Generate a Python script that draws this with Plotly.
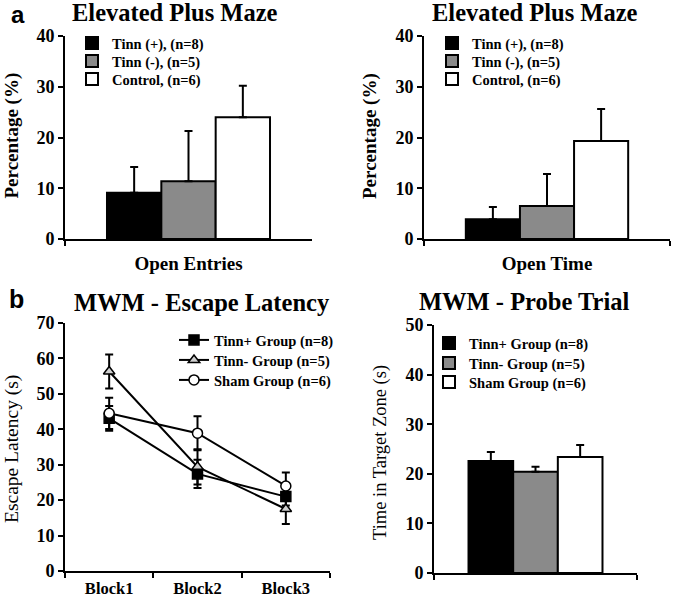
import plotly.graph_objects as go
from plotly.subplots import make_subplots

# --- data ---
epm_groups = ["Tinn (+), (n=8)", "Tinn (-), (n=5)", "Control, (n=6)"]
open_entries = [9.1, 11.4, 24.0]
open_entries_err = [5.1, 9.9, 6.2]
open_time = [3.9, 6.5, 19.3]
open_time_err = [2.4, 6.3, 6.3]

blocks = ["Block1", "Block2", "Block3"]
mwm_groups = ["Tinn+ Group (n=8)", "Tinn- Group (n=5)", "Sham Group (n=6)"]
latency_tinn_pos = [43.1, 27.4, 21.0]
latency_tinn_pos_err = [3.5, 4.0, 2.5]
latency_tinn_neg = [56.3, 29.4, 17.5]
latency_tinn_neg_err = [4.8, 5.0, 4.2]
latency_sham = [44.5, 38.9, 24.0]
latency_sham_err = [4.4, 4.8, 3.8]

probe_time = [22.6, 20.4, 23.4]
probe_err = [1.8, 1.0, 2.4]

bar_colors = ["#000000", "#8a8a8a", "#ffffff"]
SERIF = "Liberation Serif"
SANS = "Liberation Sans"
W, H = 675, 598

fig = make_subplots(rows=2, cols=2)

# one small legend per entry so rows can sit as tightly as in the original
legend_font = dict(family=SERIF, size=14.5, color="black", weight="bold")
legend_spots = []  # (text_x, row_center_y)


def new_legend(text_x, row_y):
    legend_spots.append((text_x, row_y))
    n = len(legend_spots)
    return "legend" if n == 1 else f"legend{n}"


def add_bars(names, cat, vals, errs, row, col, text_x, rows_y):
    for name, v, e, c, ry in zip(names, vals, errs, bar_colors, rows_y):
        fig.add_trace(go.Bar(
            x=[cat], y=[v], name=name, legend=new_legend(text_x, ry),
            marker=dict(color=c, line=dict(color="black", width=2)),
            error_y=dict(type="data", array=[e], arrayminus=[0], symmetric=False,
                         color="black", thickness=2, width=4),
        ), row=row, col=col)


add_bars(epm_groups, "Open Entries", open_entries, open_entries_err, 1, 1, 112, [43, 61, 79])
add_bars(epm_groups, "Open Time", open_time, open_time_err, 1, 2, 472, [43, 61, 79])
add_bars(mwm_groups, "Probe", probe_time, probe_err, 2, 2, 469, [343, 363, 382])

line_series = [
    (mwm_groups[0], latency_tinn_pos, latency_tinn_pos_err, "square", "black", 340),
    (mwm_groups[1], latency_tinn_neg, latency_tinn_neg_err, "triangle-up", "#cfcfcf", 360),
    (mwm_groups[2], latency_sham, latency_sham_err, "circle", "white", 380),
]
for name, vals, errs, sym, fill, ry in line_series:
    fig.add_trace(go.Scatter(
        x=blocks, y=vals, name=name, legend=new_legend(214, ry), mode="lines+markers",
        line=dict(color="black", width=2),
        marker=dict(symbol=sym, size=10, color=fill, line=dict(color="black", width=1.5)),
        error_y=dict(type="data", array=errs, color="black", thickness=2, width=4),
    ), row=2, col=1)


def px_dom(a, b):
    return [a / W, b / W]


def py_dom(top, bottom):
    return [(H - bottom) / H, (H - top) / H]


axis_common = dict(showline=True, linecolor="black", linewidth=2, showgrid=False,
                   zeroline=False, ticks="outside", ticklen=5, tickwidth=2,
                   tickcolor="black", automargin=False,
                   tickfont=dict(family=SERIF, size=18, color="black", weight="bold"))
cat_font = dict(family=SERIF, size=19, color="black", weight="bold")
block_font = dict(family=SERIF, size=16.5, color="black", weight="bold")

fig.update_layout(
    xaxis=dict(domain=px_dom(65, 312), range=[-0.5, 0.5], tickson="boundaries",
               ticklabelstandoff=6, **{**axis_common, "tickfont": cat_font}),
    yaxis=dict(domain=py_dom(36, 239), range=[0, 40], dtick=10, **axis_common),
    xaxis2=dict(domain=px_dom(424, 670), range=[-0.5, 0.5], tickson="boundaries",
                ticklabelstandoff=6, **{**axis_common, "tickfont": cat_font}),
    yaxis2=dict(domain=py_dom(36, 239), range=[0, 40], dtick=10, **axis_common),
    xaxis3=dict(domain=px_dom(65, 330), range=[-0.5, 2.5], tickson="boundaries",
                ticklabelstandoff=1, **{**axis_common, "tickfont": block_font}),
    yaxis3=dict(domain=py_dom(323, 571), range=[0, 70], dtick=10, **axis_common),
    xaxis4=dict(domain=px_dom(434, 637), range=[-0.5, 0.5], tickson="boundaries",
                showticklabels=False, **axis_common),
    yaxis4=dict(domain=py_dom(325, 573), range=[0, 50], dtick=10, **axis_common),
)

for i, (tx, ry) in enumerate(legend_spots):
    key = "legend" if i == 0 else f"legend{i + 1}"
    fig.update_layout({key: dict(
        x=(tx - 40) / W, y=(H - (ry - 16)) / H, xanchor="left", yanchor="top",
        font=legend_font, bgcolor="rgba(0,0,0,0)", borderwidth=0, itemclick=False,
    )})

title_font = dict(family=SERIF, size=24.5, color="black", weight="bold")
label_bold = dict(family=SERIF, size=19, color="black", weight="bold")
label_reg = dict(family=SERIF, size=19.5, color="black")
label_reg2 = dict(family=SERIF, size=18.5, color="black")
notes = [
    ("Elevated Plus Maze", 175, 13, 0, title_font),
    ("Elevated Plus Maze", 535, 13, 0, title_font),
    ("MWM - Escape Latency", 202, 302, 0, title_font),
    ("MWM - Probe Trial", 524, 301, 0, title_font),
    ("Percentage (%)", 11.5, 136, -90, label_bold),
    ("Percentage (%)", 370, 136, -90, label_bold),
    ("Escape Latency (s)", 12, 449, -90, label_reg),
    ("Time in Target Zone (s)", 380, 453, -90, label_reg2),
    ("a", 18, 15, 0, dict(family=SANS, size=24, color="black", weight="bold")),
    ("b", 16, 299, 0, dict(family=SANS, size=25, color="black", weight="bold")),
]
for text, x, y, ang, f in notes:
    fig.add_annotation(text=text, x=x / W, y=(H - y) / H, xref="paper", yref="paper",
                       showarrow=False, textangle=ang, font=f,
                       xanchor="center", yanchor="middle")

fig.update_layout(
    width=W, height=H, margin=dict(l=0, r=0, t=0, b=0, autoexpand=False),
    paper_bgcolor="white", plot_bgcolor="white",
    barmode="group", bargap=0.34, bargroupgap=0,
    showlegend=True,
)

# the page's default body margin would push the figure 8px down and right
fig.write_html("out.html", config={"displayModeBar": False},
               post_script="document.body.style.margin='0px';")
